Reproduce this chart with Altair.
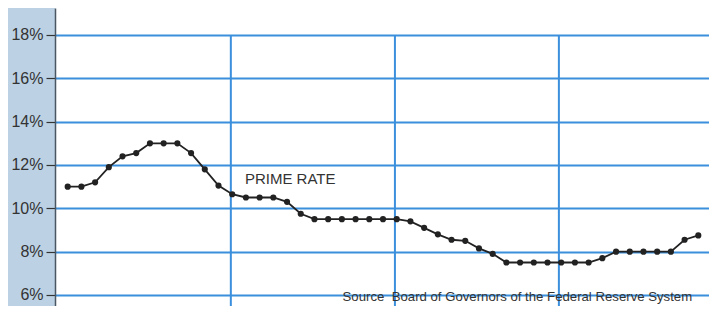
import altair as alt
import pandas as pd

# Monthly prime rate (%)
month_index = list(range(47))
prime_rate = [11.0, 11.0, 11.2, 11.9, 12.4, 12.55, 13.0, 13.0, 13.0, 12.55, 11.8, 11.05,
              10.65, 10.5, 10.5, 10.5, 10.3, 9.75, 9.5, 9.5, 9.5, 9.5, 9.5, 9.5,
              9.5, 9.4, 9.1, 8.8, 8.55, 8.5, 8.15, 7.9, 7.5, 7.5, 7.5, 7.5,
              7.5, 7.5, 7.5, 7.7, 8.0, 8.0, 8.0, 8.0, 8.0, 8.55, 8.75]
year_lines = [11.9, 23.87, 35.83]
y_ticks = [6, 8, 10, 12, 14, 16, 18]
label_text = ["PRIME RATE"]
label_x = [12.93]
label_y = [11.37]
source_text = ["Source\u00a0\u00a0Board of Governors of the Federal Reserve System"]
source_x = [20.05]
source_y = [5.7]

X_DOMAIN = [-0.926, 46.78]
Y_DOMAIN = [5.492, 19.246]
GRID = "#3b8fdc"
INK = "#222222"

df = pd.DataFrame({"m": month_index, "rate": prime_rate})
xs = alt.Scale(domain=X_DOMAIN, nice=False, zero=False)
ys = alt.Scale(domain=Y_DOMAIN, nice=False, zero=False)

base_y = alt.Y("rate:Q", scale=ys,
               axis=alt.Axis(values=y_ticks, title=None, grid=True, gridColor=GRID,
                             gridWidth=2, gridOpacity=1, labelExpr="datum.value + '%'",
                             labelFont="Liberation Sans", labelFontSize=16, labelColor="#333333",
                             labelPadding=3, tickSize=9, tickColor="#333333", tickWidth=1.2,
                             domainColor="#4a5662", domainWidth=1.5))

vlines = alt.Chart(pd.DataFrame({"m": year_lines, "top": [18] * 3, "bot": [Y_DOMAIN[0]] * 3})).mark_rule(
    color=GRID, strokeWidth=2).encode(
    x=alt.X("m:Q", scale=xs, axis=None),
    y=alt.Y("top:Q", scale=ys),
    y2="bot:Q")

line = alt.Chart(df).mark_line(color=INK, strokeWidth=1.8).encode(
    x=alt.X("m:Q", scale=xs, axis=None), y=base_y)

pts = alt.Chart(df).mark_point(filled=True, color=INK, size=38, opacity=1).encode(
    x=alt.X("m:Q", scale=xs, axis=None), y=alt.Y("rate:Q", scale=ys))

lbl = alt.Chart(pd.DataFrame({"t": label_text, "x": label_x, "y": label_y})).mark_text(
    align="left", baseline="middle", font="Liberation Sans", fontSize=15, color="#333333").encode(
    x=alt.X("x:Q", scale=xs), y=alt.Y("y:Q", scale=ys), text="t:N")

src = alt.Chart(pd.DataFrame({"t": source_text, "x": source_x, "y": source_y})).mark_text(
    align="left", baseline="alphabetic", font="Liberation Sans", fontSize=13.2, color="#333333").encode(
    x=alt.X("x:Q", scale=xs), y=alt.Y("y:Q", scale=ys), text="t:N")

chart = alt.layer(vlines, line, pts, lbl, src).properties(
    width=654, height=298,
    autosize=alt.AutoSizeParams(type="none"),
    padding={"left": 47, "top": 0, "right": 0, "bottom": 0},
    background="#bcd2e4",
).configure_view(fill="#ffffff", stroke=None)

chart.save("out.html", embed_options={"renderer": "svg", "actions": False})
